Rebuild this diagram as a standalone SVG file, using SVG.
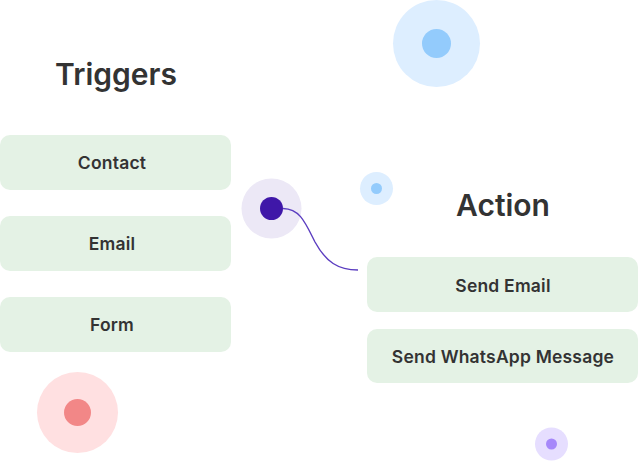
<svg xmlns="http://www.w3.org/2000/svg" width="639" height="461" viewBox="0 0 639 461">
<style>
.box{fill:#E4F2E5}
.lbl{font-family:Inter,"Noto Sans",sans-serif;font-size:17.5px;font-weight:600;fill:#333;text-anchor:middle;letter-spacing:0.2px}
.ttl{font-family:Inter,"Noto Sans",sans-serif;font-size:30px;font-weight:600;fill:#333;text-anchor:middle}
</style>
<rect width="639" height="461" fill="#fff"/>
<g id="deco">
<circle cx="436.5" cy="43.5" r="43.5" fill="#DDEEFF"/>
<circle cx="436.5" cy="43.5" r="14.5" fill="#93CBFC"/>
<circle cx="77.5" cy="412.5" r="40.5" fill="#FFE0E1"/>
<circle cx="77.5" cy="412.5" r="13.5" fill="#F28787"/>
<circle cx="551.5" cy="444" r="16.5" fill="#E6DEFF"/>
<circle cx="551.5" cy="444" r="5.5" fill="#A688FA"/>
<circle cx="376.5" cy="188.5" r="16.5" fill="#DDEEFF"/>
<circle cx="376.5" cy="188.5" r="5.5" fill="#93CBFC"/>
</g>
<text class="ttl" x="116" y="85">Triggers</text>
<text class="ttl" x="503" y="216">Action</text>
<g id="n-contact"><rect class="box" x="0" y="135" width="231" height="55" rx="10"/><text class="lbl" x="112" y="169">Contact</text></g>
<g id="n-email"><rect class="box" x="0" y="216" width="231" height="55" rx="10"/><text class="lbl" x="112" y="250">Email</text></g>
<g id="n-form"><rect class="box" x="0" y="297" width="231" height="55" rx="10"/><text class="lbl" x="112" y="331">Form</text></g>
<g id="n-sendemail"><rect class="box" x="367" y="257" width="271" height="55" rx="10"/><text class="lbl" x="503" y="292">Send Email</text></g>
<g id="n-whatsapp"><rect class="box" x="367" y="329" width="271" height="54" rx="10"/><text class="lbl" x="503" y="363">Send WhatsApp Message</text></g>
<g id="n-source">
<circle cx="271.5" cy="208.5" r="30" fill="#ECE8F6"/>
<circle cx="271.5" cy="208.5" r="11.5" fill="#3F17A8"/>
</g>
<g id="connectors">
<path d="M283 208.5 C 300 209, 305 222, 315 242 C 326 262, 338 270, 358 270" fill="none" stroke="#5B3DC0" stroke-width="1.4"/>
</g>
</svg>
